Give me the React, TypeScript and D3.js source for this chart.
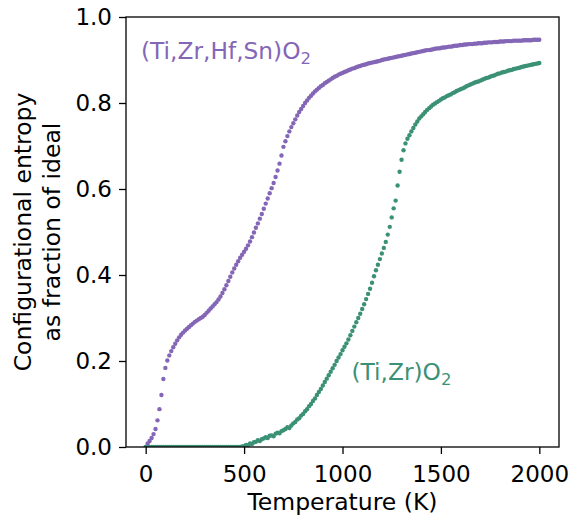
import React, { useEffect, useRef } from "react";
import * as d3 from "d3";

// temperature grid (K), one point every 10 K
const temps: number[] = d3.range(0, 2001, 10);

// (Ti,Zr,Hf,Sn)O2 entropy fraction
const hesValues: number[] = [
  0, 0.008, 0.014, 0.021, 0.03, 0.042, 0.062, 0.088, 0.121, 0.158,
  0.184, 0.201, 0.213, 0.223, 0.232, 0.24, 0.248, 0.255, 0.261, 0.266,
  0.271, 0.275, 0.279, 0.283, 0.287, 0.291, 0.294, 0.297, 0.3, 0.303,
  0.307, 0.312, 0.317, 0.322, 0.327, 0.332, 0.337, 0.343, 0.35, 0.358,
  0.367, 0.376, 0.386, 0.396, 0.406, 0.415, 0.424, 0.432, 0.44, 0.447,
  0.454, 0.461, 0.469, 0.478, 0.488, 0.499, 0.51, 0.52, 0.531, 0.542,
  0.554, 0.566, 0.578, 0.59, 0.602, 0.614, 0.628, 0.643, 0.659, 0.678,
  0.698, 0.711, 0.723, 0.734, 0.744, 0.753, 0.762, 0.771, 0.779, 0.786,
  0.793, 0.8, 0.806, 0.812, 0.817, 0.822, 0.827, 0.831, 0.835, 0.839,
  0.842, 0.846, 0.849, 0.852, 0.855, 0.858, 0.861, 0.863, 0.866, 0.868,
  0.87, 0.872, 0.874, 0.876, 0.878, 0.88, 0.881, 0.883, 0.885, 0.886,
  0.888, 0.889, 0.89, 0.892, 0.893, 0.894, 0.895, 0.896, 0.897, 0.898,
  0.9, 0.901, 0.902, 0.903, 0.904, 0.905, 0.906, 0.907, 0.908, 0.909,
  0.91, 0.911, 0.912, 0.913, 0.914, 0.915, 0.916, 0.917, 0.918, 0.919,
  0.92, 0.921, 0.922, 0.923, 0.923, 0.924, 0.925, 0.926, 0.927, 0.927,
  0.928, 0.929, 0.929, 0.93, 0.931, 0.931, 0.932, 0.933, 0.933, 0.934,
  0.935, 0.935, 0.936, 0.936, 0.937, 0.937, 0.937, 0.938, 0.938, 0.939,
  0.939, 0.939, 0.94, 0.94, 0.941, 0.941, 0.941, 0.942, 0.942, 0.942,
  0.943, 0.943, 0.943, 0.944, 0.944, 0.944, 0.944, 0.945, 0.945, 0.945,
  0.945, 0.945, 0.946, 0.946, 0.946, 0.946, 0.946, 0.947, 0.947, 0.947,
  0.947,
];

// (Ti,Zr)O2 entropy fraction
const binValues: number[] = [
  0, 0, 0, 0, 0, 0, 0, 0, 0, 0,
  0, 0, 0, 0, 0, 0, 0, 0, 0, 0,
  0, 0, 0, 0, 0, 0, 0, 0, 0, 0,
  0, 0, 0, 0, 0, 0, 0, 0, 0, 0,
  0, 0, 0, 0, 0, 0, 0, 0, 0, 0.001,
  0.002, 0.005, 0.004, 0.008, 0.007, 0.011, 0.012, 0.016, 0.014, 0.018,
  0.02, 0.023, 0.021, 0.026, 0.027, 0.025, 0.031, 0.033, 0.032, 0.037,
  0.039, 0.042, 0.046, 0.044, 0.05, 0.055, 0.058, 0.064, 0.067, 0.073,
  0.077, 0.083, 0.088, 0.095, 0.1, 0.107, 0.113, 0.121, 0.128, 0.135,
  0.143, 0.151, 0.159, 0.167, 0.175, 0.183, 0.191, 0.2, 0.208, 0.216,
  0.225, 0.233, 0.241, 0.25, 0.26, 0.27, 0.28, 0.29, 0.3, 0.31,
  0.321, 0.332, 0.344, 0.356, 0.368, 0.382, 0.397, 0.411, 0.424, 0.437,
  0.45, 0.463, 0.477, 0.494, 0.512, 0.534, 0.555, 0.573, 0.608, 0.64,
  0.668, 0.69, 0.706, 0.717, 0.725, 0.734, 0.742, 0.75, 0.757, 0.764,
  0.769, 0.774, 0.779, 0.784, 0.788, 0.792, 0.796, 0.799, 0.802, 0.805,
  0.808, 0.811, 0.813, 0.816, 0.818, 0.82, 0.823, 0.825, 0.828, 0.83,
  0.832, 0.834, 0.836, 0.839, 0.841, 0.843, 0.845, 0.847, 0.849, 0.85,
  0.852, 0.854, 0.856, 0.858, 0.859, 0.861, 0.863, 0.864, 0.866, 0.868,
  0.869, 0.871, 0.872, 0.873, 0.875, 0.876, 0.877, 0.879, 0.88, 0.881,
  0.882, 0.884, 0.885, 0.886, 0.887, 0.888, 0.889, 0.89, 0.891, 0.892,
  0.893,
];

const xTicks = [0, 500, 1000, 1500, 2000];
const yTicks = [0, 0.2, 0.4, 0.6, 0.8, 1.0];

const PURPLE = "#8466b6";
const GREEN = "#3b9176";
const FONT = "DejaVu Sans, sans-serif";

const W = 578;
const H = 516;
const margin = { left: 126, right: 19, top: 17, bottom: 69 };

export default function App() {
  const svgRef = useRef<SVGSVGElement | null>(null);

  useEffect(() => {
    if (!svgRef.current) return;
    const svg = d3.select(svgRef.current);
    svg.selectAll("*").remove();

    const x = d3.scaleLinear().domain([-100, 2100]).range([margin.left, W - margin.right]);
    const y = d3.scaleLinear().domain([0, 1]).range([H - margin.bottom, margin.top]);

    // clip the dots to the axes box like matplotlib does
    svg.append("clipPath").attr("id", "plot-clip")
      .append("rect")
      .attr("x", margin.left).attr("y", margin.top)
      .attr("width", W - margin.left - margin.right)
      .attr("height", H - margin.top - margin.bottom);

    const dots = svg.append("g").attr("clip-path", "url(#plot-clip)");
    const series = [
      { values: hesValues, color: PURPLE },
      { values: binValues, color: GREEN },
    ];
    series.forEach(s => {
      dots.selectAll(null)
        .data(s.values)
        .enter()
        .append("circle")
        .attr("cx", (d, i) => x(temps[i]))
        .attr("cy", d => y(d))
        .attr("r", 2.2)
        .attr("fill", s.color);
    });

    // axes box
    svg.append("rect")
      .attr("x", margin.left).attr("y", margin.top)
      .attr("width", W - margin.left - margin.right)
      .attr("height", H - margin.top - margin.bottom)
      .attr("fill", "none").attr("stroke", "#000").attr("stroke-width", 1.3);

    const xAxis = svg.append("g")
      .attr("transform", `translate(0,${H - margin.bottom})`)
      .call(d3.axisBottom(x).tickValues(xTicks).tickSize(7).tickPadding(12).tickFormat(d3.format("d")));
    const yAxis = svg.append("g")
      .attr("transform", `translate(${margin.left},0)`)
      .call(d3.axisLeft(y).tickValues(yTicks).tickSize(7).tickPadding(7).tickFormat(d3.format(".1f")));

    [xAxis, yAxis].forEach(a => {
      a.select(".domain").remove();
      a.selectAll("line").attr("stroke", "#000").attr("stroke-width", 1.3);
      a.selectAll("text").attr("fill", "#000").attr("font-size", 23).attr("font-family", FONT);
    });

    // axis titles
    svg.append("text")
      .attr("x", (margin.left + W - margin.right) / 2).attr("y", 510)
      .attr("text-anchor", "middle")
      .attr("font-size", 23.5).attr("font-family", FONT)
      .text("Temperature (K)");

    const yMid = (margin.top + H - margin.bottom) / 2;
    const yLabel = svg.append("text")
      .attr("transform", `translate(0,${yMid}) rotate(-90)`)
      .attr("text-anchor", "middle")
      .attr("font-size", 23.5).attr("font-family", FONT);
    yLabel.append("tspan").attr("x", 0).attr("y", 31).text("Configurational entropy");
    yLabel.append("tspan").attr("x", 0).attr("y", 60).text("as fraction of ideal");

    // series labels with subscript
    const addLabel = (lx: number, ly: number, txt: string, color: string) => {
      const t = svg.append("text")
        .attr("x", lx).attr("y", ly)
        .attr("font-size", 23.3).attr("font-family", FONT)
        .attr("fill", color);
      t.append("tspan").text(txt);
      t.append("tspan").attr("font-size", 16.5).attr("dy", 5).text("2");
    };
    addLabel(141, 58.5, "(Ti,Zr,Hf,Sn)O", PURPLE);
    addLabel(351.5, 380, "(Ti,Zr)O", GREEN);
  }, []);

  return (
    <svg
      ref={svgRef}
      width={W}
      height={H}
      style={{ position: "absolute", left: 0, top: 0, background: "#fff" }}
    />
  );
}
